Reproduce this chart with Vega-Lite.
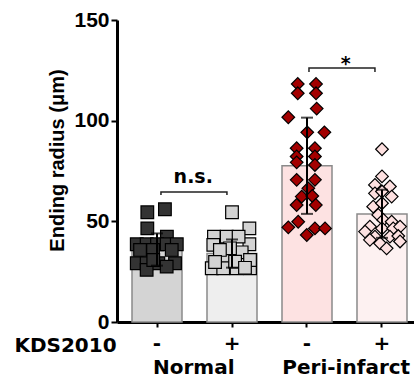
{
  "$schema": "https://vega.github.io/schema/vega-lite/v6.json",
  "width": 305,
  "height": 302,
  "autosize": "none",
  "padding": {"left": 117, "top": 20, "right": 0, "bottom": 60},
  "background": "white",
  "config": {
    "view": {"stroke": null},
    "font": "DejaVu Sans",
    "axis": {"domainColor": "black", "tickColor": "black", "labelColor": "black", "titleColor": "black", "grid": false, "labelFontWeight": "bold", "titleFontWeight": "bold"}
  },
  "datasets": {
    "summ": [
      {"cond": "N-", "mean": 36, "lo": 28, "hi": 44},
      {"cond": "N+", "mean": 34, "lo": 27, "hi": 41},
      {"cond": "P-", "mean": 77.6, "lo": 53.7, "hi": 101.5},
      {"cond": "P+", "mean": 53.7, "lo": 41.8, "hi": 65.7}
    ],
    "pts": [
      {"cond": "N-", "v": 54.5, "jitter": -0.44},
      {"cond": "N-", "v": 56, "jitter": 0.36},
      {"cond": "N-", "v": 46.5, "jitter": -0.44},
      {"cond": "N-", "v": 42.4, "jitter": 0.45},
      {"cond": "N-", "v": 38.6, "jitter": -0.92},
      {"cond": "N-", "v": 38.6, "jitter": -0.47},
      {"cond": "N-", "v": 38.6, "jitter": 0},
      {"cond": "N-", "v": 38.6, "jitter": 0.44},
      {"cond": "N-", "v": 38.6, "jitter": 0.9},
      {"cond": "N-", "v": 35.8, "jitter": -0.77},
      {"cond": "N-", "v": 35.8, "jitter": -0.18},
      {"cond": "N-", "v": 35.8, "jitter": 0.67},
      {"cond": "N-", "v": 29.2, "jitter": -0.92},
      {"cond": "N-", "v": 29.2, "jitter": -0.47},
      {"cond": "N-", "v": 29.2, "jitter": 0.06},
      {"cond": "N-", "v": 29.2, "jitter": 0.82},
      {"cond": "N-", "v": 25.9, "jitter": -0.47},
      {"cond": "N-", "v": 27.5, "jitter": 0.44},
      {"cond": "N-", "v": 30.8, "jitter": -0.17},
      {"cond": "N+", "v": 54.5, "jitter": 0},
      {"cond": "N+", "v": 46.5, "jitter": 0.79},
      {"cond": "N+", "v": 42.4, "jitter": -0.82},
      {"cond": "N+", "v": 42.4, "jitter": -0.24},
      {"cond": "N+", "v": 38.3, "jitter": -0.85},
      {"cond": "N+", "v": 38.6, "jitter": 0.79},
      {"cond": "N+", "v": 42.4, "jitter": 0.3},
      {"cond": "N+", "v": 34.6, "jitter": 0.44},
      {"cond": "N+", "v": 30.8, "jitter": -0.4},
      {"cond": "N+", "v": 26.7, "jitter": -0.92},
      {"cond": "N+", "v": 26.7, "jitter": -0.4},
      {"cond": "N+", "v": 26.7, "jitter": 0.21},
      {"cond": "N+", "v": 26.7, "jitter": 0.82},
      {"cond": "N+", "v": 36.6, "jitter": -0.09},
      {"cond": "N+", "v": 35.8, "jitter": -0.55},
      {"cond": "N+", "v": 30, "jitter": 0.14},
      {"cond": "N+", "v": 30.8, "jitter": 0.82},
      {"cond": "N+", "v": 29.8, "jitter": -0.77},
      {"cond": "N+", "v": 26.9, "jitter": 0.59},
      {"cond": "P-", "v": 118.2, "jitter": -0.42},
      {"cond": "P-", "v": 118.2, "jitter": 0.41},
      {"cond": "P-", "v": 113.6, "jitter": -0.42},
      {"cond": "P-", "v": 113.6, "jitter": 0.41},
      {"cond": "P-", "v": 106, "jitter": 0.44},
      {"cond": "P-", "v": 101.7, "jitter": -0.85},
      {"cond": "P-", "v": 94.2, "jitter": 0.01},
      {"cond": "P-", "v": 94.2, "jitter": 0.79},
      {"cond": "P-", "v": 86.3, "jitter": -0.47},
      {"cond": "P-", "v": 86.3, "jitter": 0.36},
      {"cond": "P-", "v": 82.2, "jitter": -0.47},
      {"cond": "P-", "v": 82.2, "jitter": 0.36},
      {"cond": "P-", "v": 79.3, "jitter": -0.47},
      {"cond": "P-", "v": 78, "jitter": 0.36},
      {"cond": "P-", "v": 70.6, "jitter": -0.47},
      {"cond": "P-", "v": 70.6, "jitter": 0.36},
      {"cond": "P-", "v": 62.3, "jitter": -0.24},
      {"cond": "P-", "v": 66.4, "jitter": 0.06},
      {"cond": "P-", "v": 62.6, "jitter": 0.24},
      {"cond": "P-", "v": 58.1, "jitter": -0.47},
      {"cond": "P-", "v": 58.1, "jitter": 0.4},
      {"cond": "P-", "v": 49.8, "jitter": -0.4},
      {"cond": "P-", "v": 47, "jitter": -0.85},
      {"cond": "P-", "v": 43.2, "jitter": -0.01},
      {"cond": "P-", "v": 46.5, "jitter": 0.36},
      {"cond": "P-", "v": 46.5, "jitter": 0.82},
      {"cond": "P+", "v": 85.8, "jitter": 0},
      {"cond": "P+", "v": 72.3, "jitter": 0},
      {"cond": "P+", "v": 68.1, "jitter": -0.32},
      {"cond": "P+", "v": 67.3, "jitter": 0.36},
      {"cond": "P+", "v": 63.9, "jitter": -0.32},
      {"cond": "P+", "v": 62.3, "jitter": 0.44},
      {"cond": "P+", "v": 64.8, "jitter": 0},
      {"cond": "P+", "v": 57.3, "jitter": -0.4},
      {"cond": "P+", "v": 59, "jitter": 0},
      {"cond": "P+", "v": 53.2, "jitter": -0.17},
      {"cond": "P+", "v": 50.7, "jitter": 0.06},
      {"cond": "P+", "v": 49.8, "jitter": 0.44},
      {"cond": "P+", "v": 47.4, "jitter": -0.55},
      {"cond": "P+", "v": 44.9, "jitter": -0.77},
      {"cond": "P+", "v": 46.5, "jitter": 0},
      {"cond": "P+", "v": 46.5, "jitter": 0.51},
      {"cond": "P+", "v": 47.4, "jitter": 0.82},
      {"cond": "P+", "v": 42.4, "jitter": -0.32},
      {"cond": "P+", "v": 42.4, "jitter": 0.36},
      {"cond": "P+", "v": 42.7, "jitter": 0.74},
      {"cond": "P+", "v": 39.1, "jitter": -0.09},
      {"cond": "P+", "v": 40, "jitter": 0.82},
      {"cond": "P+", "v": 40.8, "jitter": -0.55},
      {"cond": "P+", "v": 36.6, "jitter": 0.21}
    ],
    "brk": [
      {"b": "ns", "i": 0, "cond": "N-", "jitter": 0.18, "v": 63.1},
      {"b": "ns", "i": 1, "cond": "N-", "jitter": 0.18, "v": 64.6},
      {"b": "ns", "i": 2, "cond": "N+", "jitter": -0.23, "v": 64.6},
      {"b": "ns", "i": 3, "cond": "N+", "jitter": -0.23, "v": 63.1},
      {"b": "st", "i": 0, "cond": "P-", "jitter": 0.09, "v": 124.2},
      {"b": "st", "i": 1, "cond": "P-", "jitter": 0.09, "v": 126.2},
      {"b": "st", "i": 2, "cond": "P+", "jitter": -0.32, "v": 126.2},
      {"b": "st", "i": 3, "cond": "P+", "jitter": -0.32, "v": 124.2}
    ],
    "sig": [
      {"grp": "Normal", "s": "n.s.", "v": 69.1},
      {"grp": "Peri-infarct", "s": "*", "v": 125.4}
    ]
  },
  "layer": [
    {
      "data": {"name": "summ"},
      "mark": {"type": "bar", "stroke": "#8a8a8a", "strokeWidth": 1.5},
      "encoding": {
        "x": {
          "field": "cond", "type": "nominal",
          "sort": ["N-", "N+", "P-", "P+"],
          "scale": {"domain": ["N-", "N+", "P-", "P+"], "paddingInner": 0.3333, "paddingOuter": 0.2},
          "axis": {
            "labelExpr": "slice(datum.value, -1)", "labelAngle": 0, "labelFontSize": 20, "labelPadding": 6,
            "tickSize": 5, "tickWidth": 2, "domainWidth": 3,
            "title": "KDS2010", "titleFontSize": 20, "titleX": -52, "titleY": 23, "titleAlign": "center", "titleBaseline": "middle", "titleAngle": 0
          }
        },
        "y": {
          "field": "mean", "type": "quantitative", "title": "Ending radius (μm)",
          "scale": {"domain": [0, 150], "nice": false},
          "axis": {
            "values": [0, 50, 100, 150],
            "titleFont": "Liberation Sans", "titleFontSize": 20,
            "labelFont": "Liberation Sans", "labelFontSize": 21, "labelPadding": 2,
            "tickSize": 6, "tickWidth": 2, "domainWidth": 3,
            "titleX": -60, "titleY": 140, "titleAngle": -90, "titleAlign": "center", "titleBaseline": "middle"
          }
        },
        "fill": {
          "field": "cond", "type": "nominal",
          "scale": {"domain": ["N-", "N+", "P-", "P+"], "range": ["#d4d4d4", "#eeeeee", "#fde2e2", "#fdf1f1"]},
          "legend": null
        }
      }
    },
    {
      "encoding": {
        "x": {
          "field": "cond", "type": "nominal",
          "sort": ["N-", "N+", "P-", "P+"],
          "scale": {"domain": ["N-", "N+", "P-", "P+"], "paddingInner": 0.3333, "paddingOuter": 0.2},
          "axis": null
        },
        "xOffset": {"field": "jitter", "type": "quantitative", "scale": {"domain": [-1, 1], "range": [3, 47]}}
      },
      "layer": [
        {
          "data": {"name": "pts"},
          "mark": {"type": "point", "filled": true, "stroke": "black", "strokeWidth": 1.2, "size": 160, "opacity": 1},
          "encoding": {
            "y": {"field": "v", "type": "quantitative", "title": "Ending radius (μm)"},
            "shape": {"field": "cond", "type": "nominal", "scale": {"domain": ["N-", "N+", "P-", "P+"], "range": ["square", "square", "diamond", "diamond"]}, "legend": null},
            "color": {"field": "cond", "type": "nominal", "scale": {"domain": ["N-", "N+", "P-", "P+"], "range": ["#333333", "#d3d3d3", "#a30000", "#fde0e0"]}, "legend": null}
          }
        },
        {
          "data": {"name": "brk"},
          "mark": {"type": "line", "color": "#222222", "strokeWidth": 1.5},
          "encoding": {
            "y": {"field": "v", "type": "quantitative", "title": "Ending radius (μm)"},
            "detail": {"field": "b"},
            "order": {"field": "i"}
          }
        }
      ]
    },
    {
      "data": {"name": "summ"},
      "mark": {"type": "errorbar", "ticks": {"size": 12}, "thickness": 2, "color": "black"},
      "encoding": {
        "x": {
          "field": "cond", "type": "nominal",
          "sort": ["N-", "N+", "P-", "P+"],
          "scale": {"domain": ["N-", "N+", "P-", "P+"], "paddingInner": 0.3333, "paddingOuter": 0.2},
          "axis": null
        },
        "y": {"field": "lo", "type": "quantitative", "title": "Ending radius (μm)"},
        "y2": {"field": "hi"}
      }
    },
    {
      "data": {"name": "sig"},
      "mark": {"type": "text", "fontWeight": "bold", "font": "DejaVu Sans", "baseline": "alphabetic", "fontSize": 19, "color": "black"},
      "encoding": {
        "x": {
          "field": "grp", "type": "nominal",
          "scale": {"domain": ["Normal", "Peri-infarct"], "paddingInner": 0, "paddingOuter": 0},
          "axis": {"orient": "bottom", "domain": false, "ticks": false, "labelPadding": 35, "labelFontSize": 20, "labelAngle": 0, "title": null}
        },
        "y": {"field": "v", "type": "quantitative", "title": "Ending radius (μm)"},
        "text": {"field": "s"}
      }
    }
  ],
  "resolve": {"scale": {"x": "independent", "xOffset": "independent"}, "axis": {"x": "independent"}}
}
